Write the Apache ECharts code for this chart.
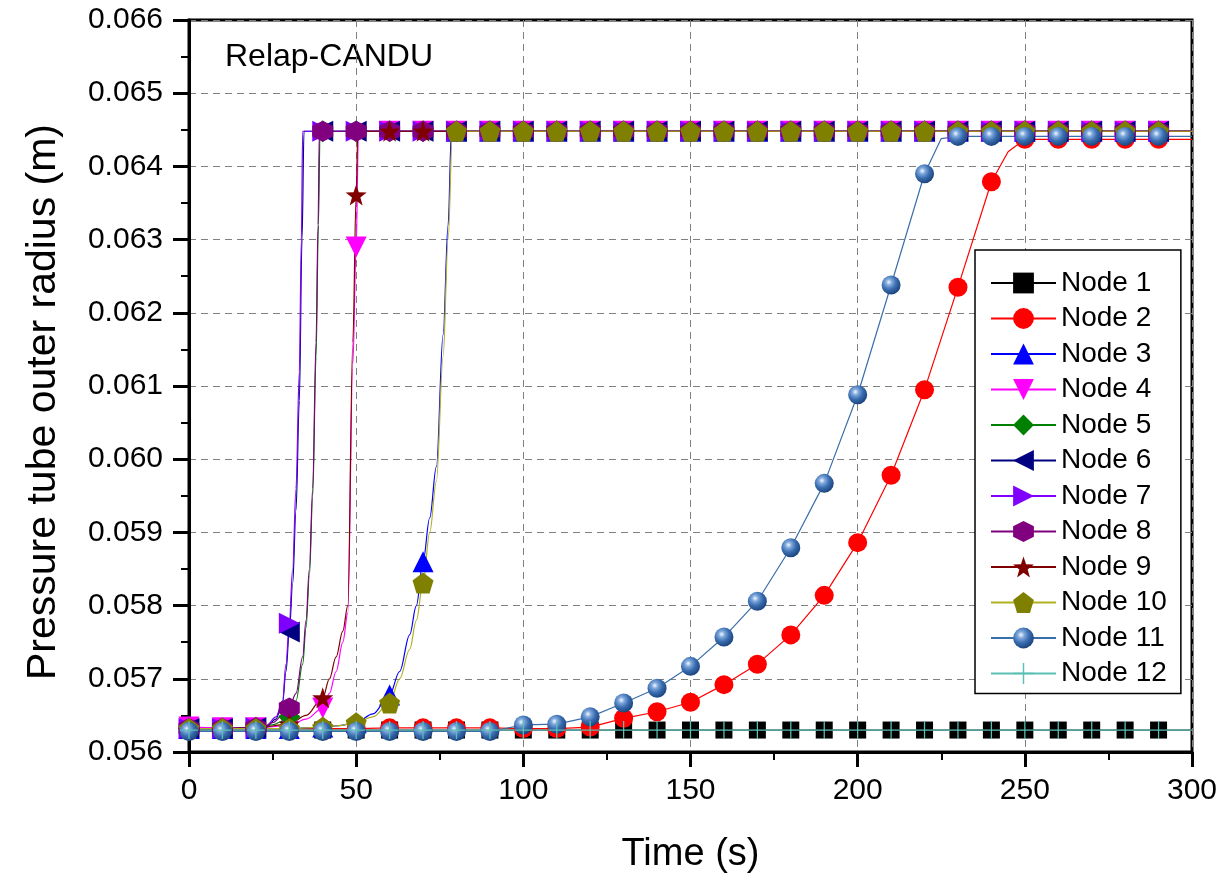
<!DOCTYPE html>
<html>
<head>
<meta charset="utf-8">
<script src="https://cdn.jsdelivr.net/npm/echarts@6/dist/echarts.min.js"></script>
<style>
html,body{margin:0;padding:0;background:#fff;}
#chart{width:1219px;height:877px;}
</style>
</head>
<body>
<div id="chart"></div>
<script>
// ---- Data (time s, outer radius m) ----
const seriesNames = ['Node 1','Node 2','Node 3','Node 4','Node 5','Node 6','Node 7','Node 8','Node 9','Node 10','Node 11','Node 12'];
const xTicks = [0, 50, 100, 150, 200, 250, 300];
const yTicks = [0.056, 0.057, 0.058, 0.059, 0.060, 0.061, 0.062, 0.063, 0.064, 0.065, 0.066];

const node1 = [[0,.0563],[10,.0563],[20,.0563],[30,.0563],[40,.0563],[50,.0563],[60,.0563],[70,.0563],[80,.0563],[90,.0563],[100,.0563],[110,.0563],[120,.0563],[130,.0563],[140,.0563],[150,.0563],[160,.0563],[170,.0563],[180,.0563],[190,.0563],[200,.0563],[210,.0563],[220,.0563],[230,.0563],[240,.0563],[250,.0563],[260,.0563],[270,.0563],[280,.0563],[290,.0563],[300,.0563]];
const node2 = [[0,.05634],[10,.05632],[20,.05632],[30,.05632],[40,.05632],[50,.05632],[60,.05633],[70,.05633],[80,.05633],[90,.05633],[100,.05632],[110,.05632],[120,.05634],[130,.05646],[140,.05655],[150,.05668],[160,.05692],[170,.0572],[180,.0576],[190,.05814],[200,.05886],[210,.05978],[220,.06095],[230,.06235],[240,.06379],[245,.0642],[250,.06437],[260,.06437],[270,.06437],[280,.06437],[290,.06437],[300,.06437]];
const node3 = [[0,.05632],[10,.05632],[20,.05632],[30,.05632],[40,.05634],[45,.05636],[50,.0564],[55,.05652],[60,.05678],[63,.0571],[66,.0576],[68,.058],[70,.0586],[72,.0592],[74,.0599],[76,.0617],[77.5,.0632],[78.5,.06448],[80,.06448],[90,.06448],[100,.06448],[110,.06448],[120,.06448],[130,.06448],[140,.06448],[150,.06448],[160,.06448],[170,.06448],[180,.06448],[190,.06448],[200,.06448],[210,.06448],[220,.06448],[230,.06448],[240,.06448],[250,.06448],[260,.06448],[270,.06448],[280,.06448],[290,.06448],[300,.06448]];
const node4 = [[0,.05634],[10,.05633],[20,.05633],[30,.05636],[35,.05645],[40,.0566],[42,.0568],[44,.0571],[46,.0575],[47.5,.0579],[49,.0613],[50,.0629],[50.7,.06448],[60,.06448],[70,.06448],[80,.06448],[90,.06448],[100,.06448],[110,.06448],[120,.06448],[130,.06448],[140,.06448],[150,.06448],[160,.06448],[170,.06448],[180,.06448],[190,.06448],[200,.06448],[210,.06448],[220,.06448],[230,.06448],[240,.06448],[250,.06448],[260,.06448],[270,.06448],[280,.06448],[290,.06448],[300,.06448]];
const node5 = [[0,.05632],[10,.05632],[20,.05633],[25,.05637],[28,.05642],[30,.05648],[32,.0567],[34,.0572],[35,.0577],[36,.0584],[37,.0595],[38,.0614],[38.7,.0632],[39.2,.06448],[40,.06448],[50,.06448],[60,.06448],[70,.06448],[80,.06448],[90,.06448],[100,.06448],[110,.06448],[120,.06448],[130,.06448],[140,.06448],[150,.06448],[160,.06448],[170,.06448],[180,.06448],[190,.06448],[200,.06448],[210,.06448],[220,.06448],[230,.06448],[240,.06448],[250,.06448],[260,.06448],[270,.06448],[280,.06448],[290,.06448],[300,.06448]];
const node6 = [[0,.05632],[10,.05632],[20,.05633],[23,.05634],[26,.05645],[28,.05668],[29,.0571],[30,.05764],[31,.0583],[32,.0593],[33,.0608],[33.8,.063],[34.4,.06448],[40,.06448],[50,.06448],[60,.06448],[70,.06448],[80,.06448],[90,.06448],[100,.06448],[110,.06448],[120,.06448],[130,.06448],[140,.06448],[150,.06448],[160,.06448],[170,.06448],[180,.06448],[190,.06448],[200,.06448],[210,.06448],[220,.06448],[230,.06448],[240,.06448],[250,.06448],[260,.06448],[270,.06448],[280,.06448],[290,.06448],[300,.06448]];
const node7 = [[0,.05632],[10,.05632],[20,.05633],[23,.05635],[26,.05648],[28,.0567],[29,.0572],[30,.05776],[31,.0585],[32,.0596],[33,.0612],[33.6,.063],[34,.06448],[40,.06448],[50,.06448],[60,.06448],[70,.06448],[80,.06448],[90,.06448],[100,.06448],[110,.06448],[120,.06448],[130,.06448],[140,.06448],[150,.06448],[160,.06448],[170,.06448],[180,.06448],[190,.06448],[200,.06448],[210,.06448],[220,.06448],[230,.06448],[240,.06448],[250,.06448],[260,.06448],[270,.06448],[280,.06448],[290,.06448],[300,.06448]];
const node8 = [[0,.05632],[10,.05632],[20,.05633],[22,.05634],[25,.0564],[28,.0565],[30,.0566],[32,.0568],[34,.0573],[35,.0578],[36,.0585],[37,.0596],[38,.0616],[38.6,.0632],[39,.06448],[40,.06448],[50,.06448],[60,.06448],[70,.06448],[80,.06448],[90,.06448],[100,.06448],[110,.06448],[120,.06448],[130,.06448],[140,.06448],[150,.06448],[160,.06448],[170,.06448],[180,.06448],[190,.06448],[200,.06448],[210,.06448],[220,.06448],[230,.06448],[240,.06448],[250,.06448],[260,.06448],[270,.06448],[280,.06448],[290,.06448],[300,.06448]];
const node9 = [[0,.05632],[10,.05632],[20,.05633],[30,.05638],[35,.0565],[40,.05674],[42,.057],[44,.0573],[46,.05765],[47.5,.058],[49,.0616],[50,.06361],[50.5,.06448],[60,.06448],[70,.06448],[80,.06448],[90,.06448],[100,.06448],[110,.06448],[120,.06448],[130,.06448],[140,.06448],[150,.06448],[160,.06448],[170,.06448],[180,.06448],[190,.06448],[200,.06448],[210,.06448],[220,.06448],[230,.06448],[240,.06448],[250,.06448],[260,.06448],[270,.06448],[280,.06448],[290,.06448],[300,.06448]];
const node10 = [[0,.05632],[10,.05632],[20,.05632],[30,.05632],[40,.05634],[45,.05636],[50,.0564],[55,.05648],[60,.05667],[63,.057],[66,.0574],[68,.0578],[70,.05831],[72,.059],[74,.0597],[76,.0614],[77.5,.063],[78.8,.06448],[80,.06448],[90,.06448],[100,.06448],[110,.06448],[120,.06448],[130,.06448],[140,.06448],[150,.06448],[160,.06448],[170,.06448],[180,.06448],[190,.06448],[200,.06448],[210,.06448],[220,.06448],[230,.06448],[240,.06448],[250,.06448],[260,.06448],[270,.06448],[280,.06448],[290,.06448],[300,.06448]];
const node11 = [[0,.05628],[10,.05628],[20,.05628],[30,.05628],[40,.05628],[50,.05628],[60,.05628],[70,.05628],[80,.05628],[90,.05628],[100,.05637],[110,.05638],[120,.05648],[130,.05667],[140,.05687],[150,.05717],[160,.05757],[170,.05806],[180,.05879],[190,.05967],[200,.06088],[210,.06238],[220,.0639],[225,.06438],[230,.06441],[240,.06441],[250,.06441],[260,.06441],[270,.06441],[280,.06441],[290,.06441],[300,.06441]];
const node12 = [[0,.0563],[10,.0563],[20,.0563],[30,.0563],[40,.0563],[50,.0563],[60,.0563],[70,.0563],[80,.0563],[90,.0563],[100,.0563],[110,.0563],[120,.0563],[130,.0563],[140,.0563],[150,.0563],[160,.0563],[170,.0563],[180,.0563],[190,.0563],[200,.0563],[210,.0563],[220,.0563],[230,.0563],[240,.0563],[250,.0563],[260,.0563],[270,.0563],[280,.0563],[290,.0563],[300,.0563]];

const allData = [node1,node2,node3,node4,node5,node6,node7,node8,node9,node10,node11,node12];

// ---- Styles ----
const FONT = 'Liberation Sans, Arial, sans-serif';
const hexagon = 'path://M0,-10 L8.66,-5 L8.66,5 L0,10 L-8.66,5 L-8.66,-5 Z';
const star = 'path://M0,-10 L2.35,-3.24 L9.51,-3.09 L3.8,1.24 L5.88,8.09 L0,4 L-5.88,8.09 L-3.8,1.24 L-9.51,-3.09 L-2.35,-3.24 Z';
const pentagon = 'path://M0,-10 L9.51,-3.09 L5.88,8.09 L-5.88,8.09 L-9.51,-3.09 Z';
const plus = 'path://M-0.7,-10 L0.7,-10 L0.7,-0.7 L10,-0.7 L10,0.7 L0.7,0.7 L0.7,10 L-0.7,10 L-0.7,0.7 L-10,0.7 L-10,-0.7 L-0.7,-0.7 Z';
const sphere = {type:'radial', x:0.38, y:0.35, r:0.65, colorStops:[
  {offset:0, color:'#f4f8ff'}, {offset:0.25, color:'#7fa8dc'}, {offset:0.6, color:'#3a6db0'}, {offset:1, color:'#1d4680'}]};

const styles = [
  {line:'#000000', fill:'#000000', symbol:'rect', size:17, rot:0},
  {line:'#ff0000', fill:'#ff0000', symbol:'circle', size:19, rot:0},
  {line:'#0000ff', fill:'#0000ff', symbol:'triangle', size:21, rot:0},
  {line:'#ff00ff', fill:'#ff00ff', symbol:'triangle', size:21, rot:180},
  {line:'#008000', fill:'#008000', symbol:'diamond', size:22, rot:0},
  {line:'#000080', fill:'#000080', symbol:'triangle', size:21, rot:90},
  {line:'#8000ff', fill:'#8000ff', symbol:'triangle', size:21, rot:-90},
  {line:'#800080', fill:'#800080', symbol:hexagon, size:21, rot:0},
  {line:'#800000', fill:'#800000', symbol:star, size:21, rot:0},
  {line:'#b0b020', fill:'#808000', symbol:pentagon, size:21, rot:0},
  {line:'#3a6ea8', fill:sphere, symbol:'circle', size:19, rot:0},
  {line:'#5cbfb5', fill:'#5cbfb5', symbol:plus, size:18, rot:0}
];

const series = seriesNames.map((name, i) => {
  const st = styles[i];
  return {
    name: name,
    type: 'line',
    data: allData[i],
    symbol: st.symbol,
    symbolRotate: st.rot,
    symbolSize: function (v) { return (Math.abs(v[0] % 10) < 1e-9 && v[0] < 300) ? st.size : 0; },
    showSymbol: true,
    showAllSymbol: true,
    smooth: (i >= 2 && i <= 9) ? 0.35 : false,
    smoothMonotone: 'x',
    lineStyle: {color: st.line, width: 1.2},
    itemStyle: {color: st.fill, borderWidth: 0},
    emphasis: {disabled: true},
    animation: false
  };
});

const chart = echarts.init(document.getElementById('chart'), null, {renderer: 'canvas'});
chart.setOption({
  backgroundColor: '#ffffff',
  animation: false,
  textStyle: {fontFamily: FONT},
  grid: {left: 189, right: 27, top: 20, bottom: 125, containLabel: false, outerBoundsMode: 'none',
         show: true, borderColor: '#000', borderWidth: 3, backgroundColor: 'transparent'},
  xAxis: {
    type: 'value', min: xTicks[0], max: xTicks[xTicks.length - 1], interval: 50,
    name: 'Time (s)', nameLocation: 'middle', nameGap: 84,
    nameTextStyle: {fontSize: 38, color: '#000', fontFamily: FONT},
    axisLine: {show: true, onZero: false, lineStyle: {color: '#000', width: 3}},
    axisTick: {show: true, inside: false, length: 15, lineStyle: {color: '#000', width: 3}},
    minorTick: {show: true, splitNumber: 2, length: 8, lineStyle: {color: '#000', width: 2}},
    axisLabel: {fontSize: 30, color: '#000', margin: 24, fontFamily: FONT},
    splitLine: {show: true, lineStyle: {color: '#808080', width: 1, type: [7, 5]}}
  },
  yAxis: {
    type: 'value', min: yTicks[0], max: yTicks[yTicks.length - 1], interval: 0.001,
    axisLine: {show: true, onZero: false, lineStyle: {color: '#000', width: 3}},
    axisTick: {show: true, inside: false, length: 16, lineStyle: {color: '#000', width: 3}},
    minorTick: {show: true, splitNumber: 2, length: 8, lineStyle: {color: '#000', width: 2}},
    axisLabel: {fontSize: 30, color: '#000', margin: 26, fontFamily: FONT, formatter: v => v.toFixed(3)},
    splitLine: {show: true, lineStyle: {color: '#808080', width: 1, type: [7, 5]}}
  },
  legend: {
    orient: 'vertical', left: 975, top: 250,
    data: seriesNames,
    itemWidth: 65, itemHeight: 26, itemGap: 7.5,
    padding: [19, 14, 6, 15],
    backgroundColor: '#fff', borderColor: '#000', borderWidth: 1.5, borderRadius: 0,
    textStyle: {fontSize: 28, color: '#000', fontFamily: FONT},
    selectedMode: false
  },
  graphic: [{
    type: 'text', left: 225, top: 41,
    style: {text: 'Relap-CANDU', fontSize: 32, fill: '#000', fontFamily: FONT}
  }, {
    type: 'text', x: 44, y: 402, rotation: Math.PI / 2,
    style: {text: 'Pressure tube outer radius (m)', fontSize: 41, fill: '#000', fontFamily: FONT, align: 'center', verticalAlign: 'middle'}
  }],
  series: series
});
</script>
</body>
</html>
